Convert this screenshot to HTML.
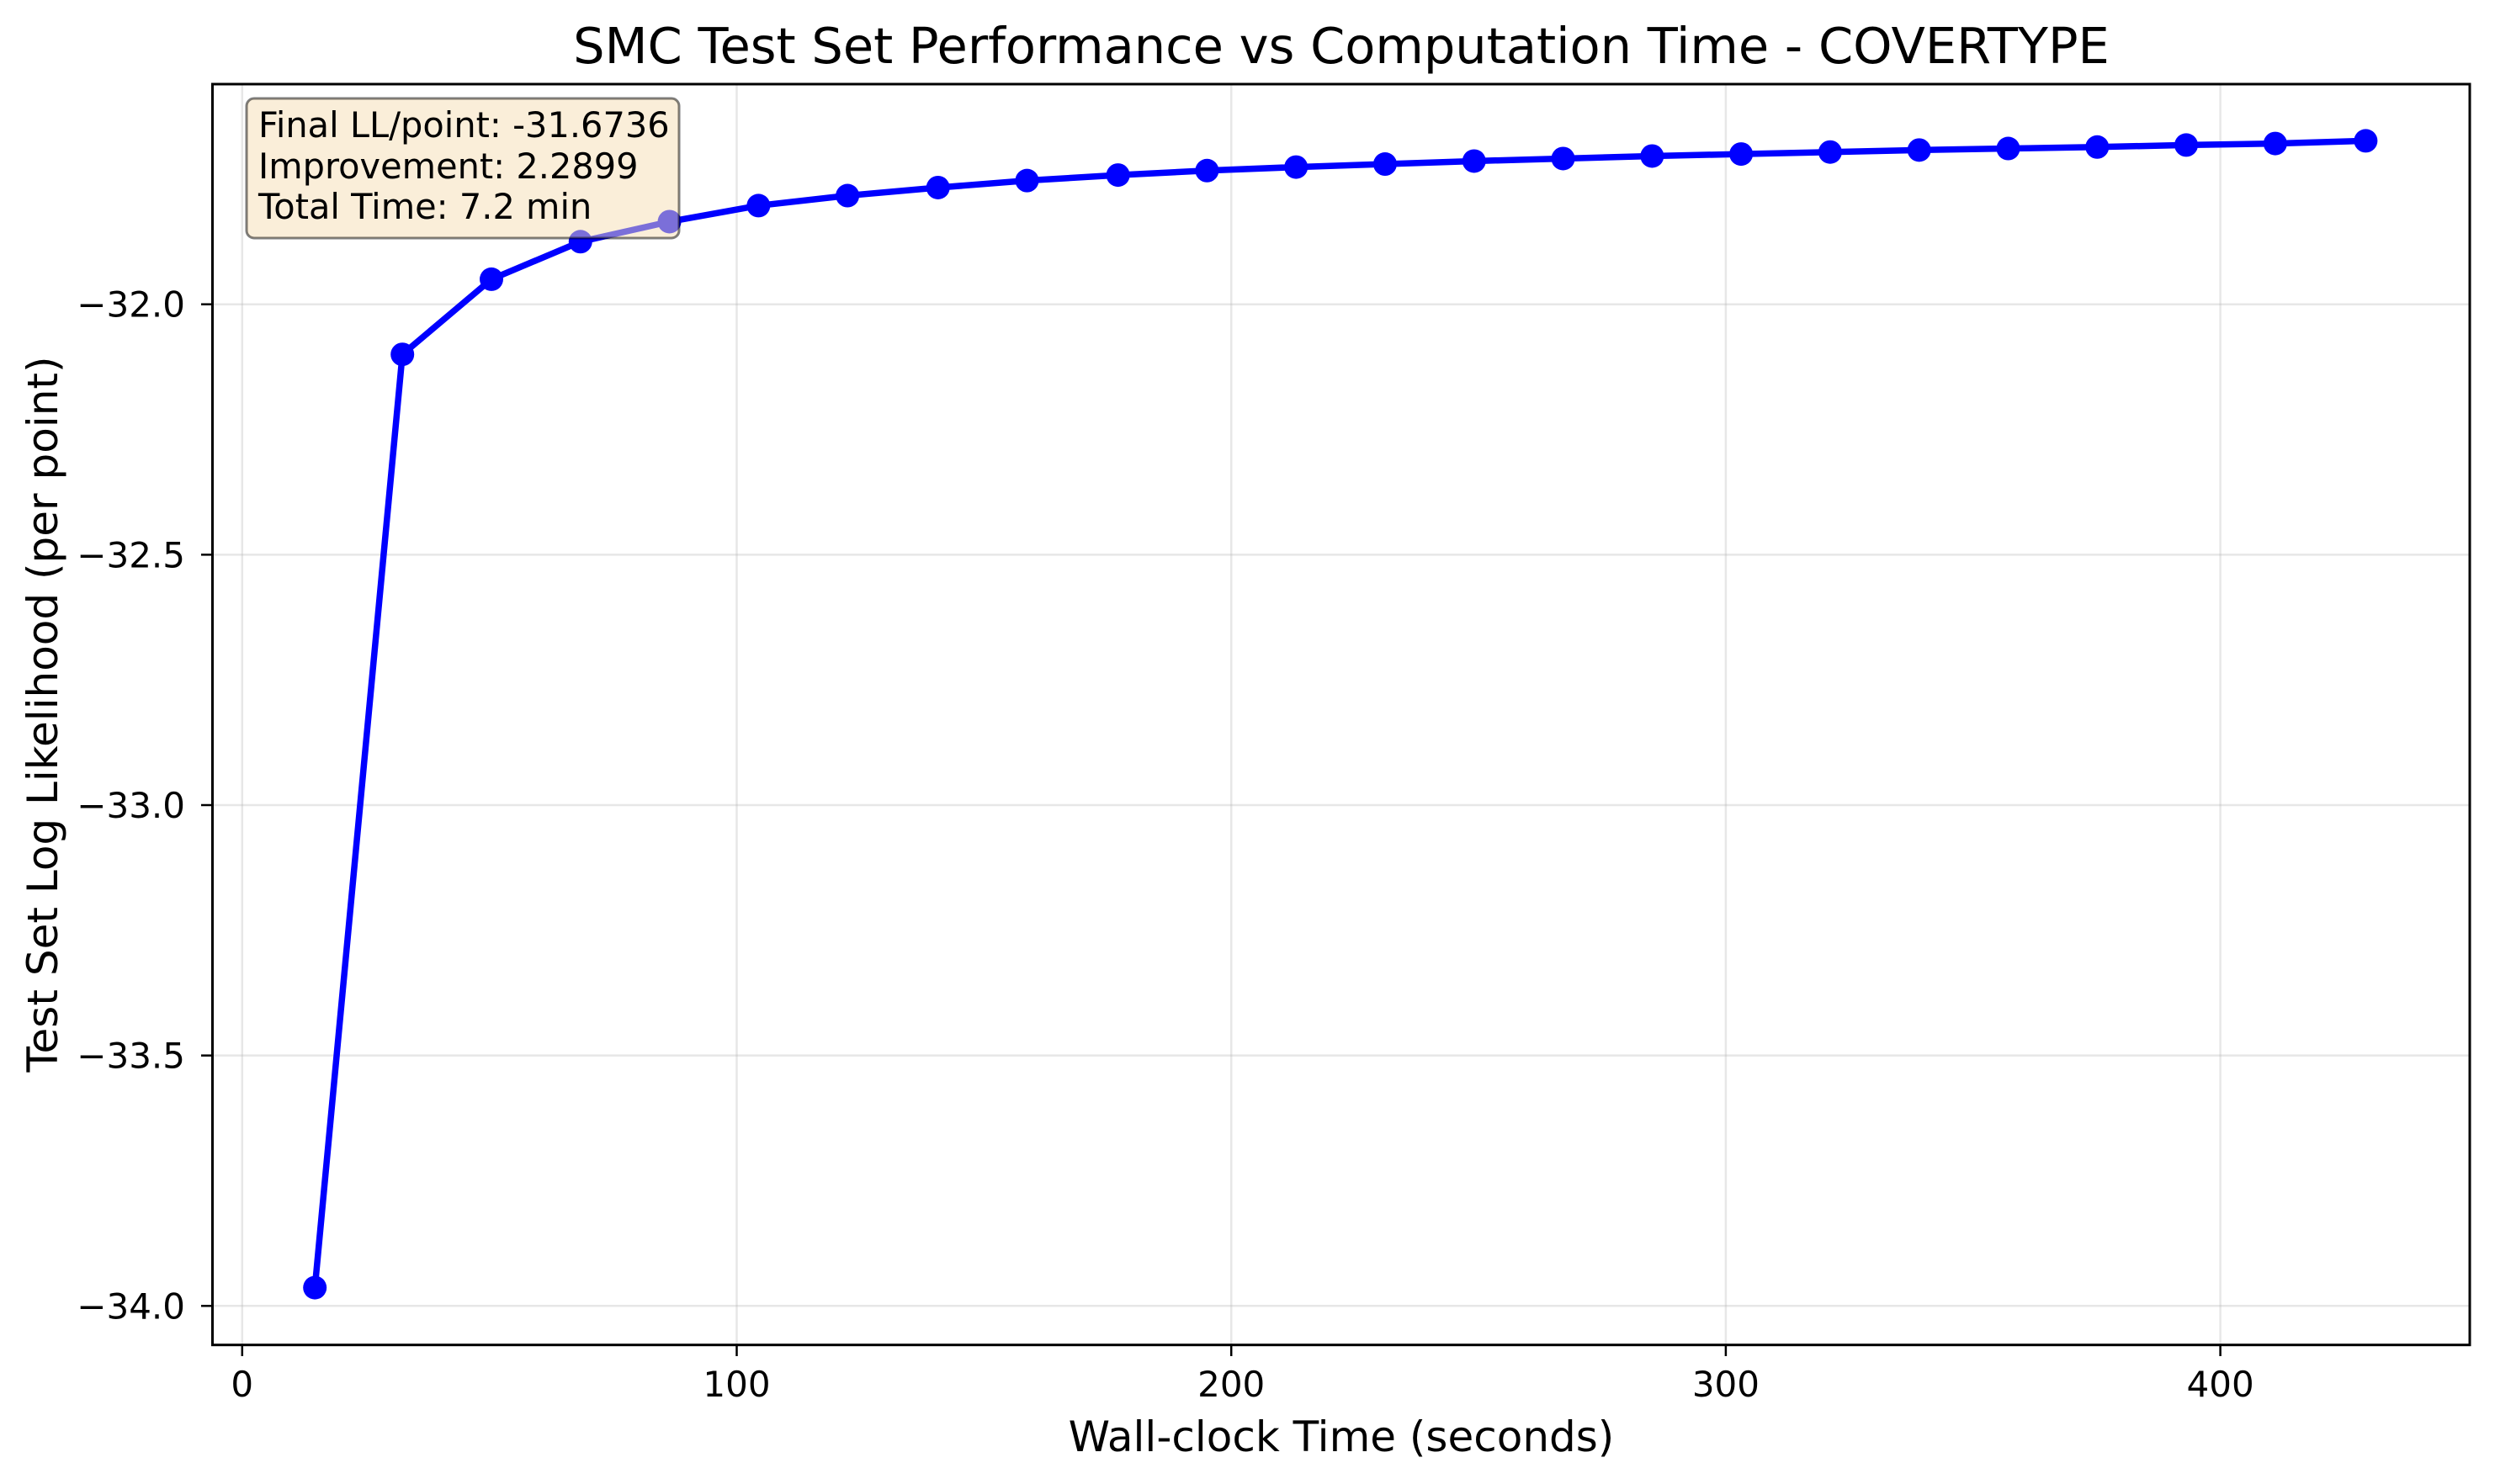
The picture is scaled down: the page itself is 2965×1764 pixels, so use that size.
<!DOCTYPE html>
<html><head><meta charset="utf-8"><style>
html,body{margin:0;padding:0;background:#fff}
svg{display:block}
text{font-family:"DejaVu Sans","Liberation Sans",sans-serif}
</style></head><body>
<svg id="chart" width="2965" height="1764" viewBox="0 0 2965 1764" xmlns="http://www.w3.org/2000/svg">
<rect width="2965" height="1764" fill="#fff"/>
<g id="grid"></g>
<g id="series"></g>
<rect x="252.5" y="100" width="2682.5" height="1498.7" fill="none" stroke="#000" stroke-width="3"/>
<g id="ticks"></g>
<text x="1594" y="75" font-size="59" text-anchor="middle">SMC Test Set Performance vs Computation Time - COVERTYPE</text>
<text x="1594" y="1725" font-size="50" text-anchor="middle">Wall-clock Time (seconds)</text>
<text transform="translate(68,849) rotate(-90)" font-size="50" text-anchor="middle">Test Set Log Likelihood (per point)</text>
<g>
<rect x="293" y="117" width="514" height="166" rx="9" fill="#f5deb3" fill-opacity="0.5" stroke="#000" stroke-opacity="0.5" stroke-width="3"/>
<text x="307" y="163" font-size="41.5">Final LL/point: -31.6736</text>
<text x="307" y="212" font-size="41.5">Improvement: 2.2899</text>
<text x="307" y="260" font-size="41.5">Total Time: 7.2 min</text>
</g>
</svg>
<script>
const times = [14.7,32.4,50.4,68.4,86.4,104.4,122.4,140.7,158.7,177.1,195.1,213.1,231.1,249.1,267.1,285.1,303.1,321.1,339.1,357.1,375.1,393.1,411.1,429.4];
const loglik = [-33.9635,-32.10,-31.95,-31.875,-31.835,-31.803,-31.783,-31.767,-31.753,-31.742,-31.733,-31.726,-31.720,-31.714,-31.709,-31.704,-31.700,-31.696,-31.692,-31.689,-31.686,-31.682,-31.679,-31.6736];
const xTicks = [0,100,200,300,400];
const yTicks = [-34.0,-33.5,-33.0,-32.5,-32.0];
const yTickLabels = ["\u221234.0","\u221233.5","\u221233.0","\u221232.5","\u221232.0"];
const NS="http://www.w3.org/2000/svg";
function xs(v){return 287.8+v*5.877;}
function ys(v){return 361.7+(-32-v)*595.3;}
function mk(tag,attrs,parent){const e=document.createElementNS(NS,tag);for(const k in attrs)e.setAttribute(k,attrs[k]);parent.appendChild(e);return e;}
const grid=document.getElementById('grid'),ticks=document.getElementById('ticks'),series=document.getElementById('series');
xTicks.forEach(t=>{
  const g=mk('line',{x1:xs(t),x2:xs(t),y1:100,y2:1598.7,stroke:'#b0b0b0','stroke-opacity':0.3,'stroke-width':2.5},grid);
  
  
  const tk=mk('line',{x1:xs(t),x2:xs(t),y1:1598.7,y2:1612,stroke:'#000','stroke-width':2.5},ticks);
  
  
  const lb=mk('text',{x:xs(t),y:1660,'font-size':42,'text-anchor':'middle'},ticks);
  lb.textContent=String(t);
  
  
});
yTicks.forEach((t,i)=>{
  const g=mk('line',{x1:252.5,x2:2935,y1:ys(t),y2:ys(t),stroke:'#b0b0b0','stroke-opacity':0.3,'stroke-width':2.5},grid);
  
  
  const tk=mk('line',{x1:239,x2:252.5,y1:ys(t),y2:ys(t),stroke:'#000','stroke-width':2.5},ticks);
  
  
  const lb=mk('text',{x:220,y:ys(t)+15,'font-size':42,'text-anchor':'end'},ticks);
  lb.textContent=yTickLabels[i];
  
  
});
const pts=times.map((t,i)=>xs(t)+','+ys(loglik[i])).join(' ');
const pl=mk('polyline',{points:pts,fill:'none',stroke:'#0000ff','stroke-width':7.5,'stroke-linejoin':'round'},series);


times.forEach((t,i)=>{
  const c=mk('circle',{cx:xs(t),cy:ys(loglik[i]),r:14,fill:'#0000ff'},series);
  
  
});
</script>
</body></html>
